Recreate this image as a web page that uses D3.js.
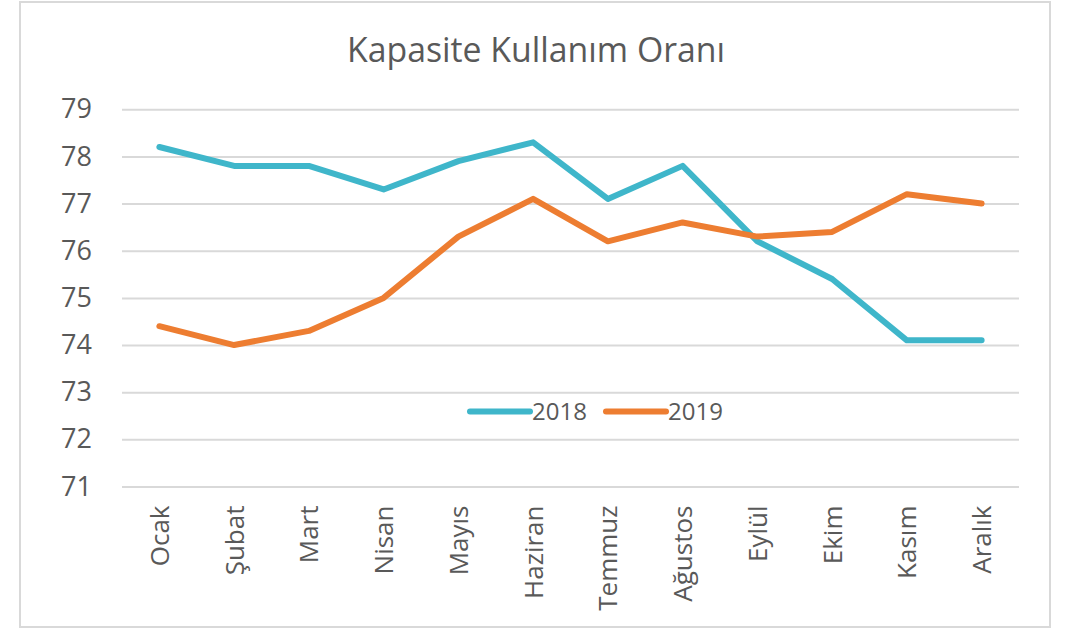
<!DOCTYPE html>
<html>
<head>
<meta charset="utf-8">
<script src="https://cdnjs.cloudflare.com/ajax/libs/d3/7.8.5/d3.min.js"></script>
<style>
  body { margin: 0; background: #fff; }
  text { font-family: "Open Sans", "Noto Sans", sans-serif; fill: #595959; }
</style>
</head>
<body>
<div id="chart"></div>
<script>
// chart data
var months = ['Ocak', 'Şubat', 'Mart', 'Nisan', 'Mayıs', 'Haziran', 'Temmuz', 'Ağustos', 'Eylül', 'Ekim', 'Kasım', 'Aralık'];
var values2018 = [78.2, 77.8, 77.8, 77.3, 77.9, 78.3, 77.1, 77.8, 76.2, 75.4, 74.1, 74.1];
var values2019 = [74.4, 74.0, 74.3, 75.0, 76.3, 77.1, 76.2, 76.6, 76.3, 76.4, 77.2, 77.0];
var yTicks = [71, 72, 73, 74, 75, 76, 77, 78, 79];
var seriesNames = ['2018', '2019'];
var seriesColors = ['#3fb6ca', '#ed7d31'];

var totalWidth = 1081;
var totalHeight = 630;
var plot = { left: 122, right: 1019, top: 109.3, bottom: 486.5 };

var svg = d3.select('#chart').append('svg')
    .attr('width', totalWidth)
    .attr('height', totalHeight);

// outer frame
svg.append('rect')
    .attr('x', 20).attr('y', 2)
    .attr('width', 1030).attr('height', 625)
    .attr('fill', '#fff')
    .attr('stroke', '#d9d9d9')
    .attr('stroke-width', 2);

// title
svg.append('text')
    .attr('x', 536).attr('y', 62)
    .attr('text-anchor', 'middle')
    .attr('font-size', 35)
    .attr('textLength', 378)
    .attr('lengthAdjust', 'spacingAndGlyphs')
    .text('Kapasite Kullanım Oranı');

var xScale = d3.scalePoint()
    .domain(months)
    .range([plot.left, plot.right])
    .padding(0.5);

var yScale = d3.scaleLinear()
    .domain([d3.min(yTicks), d3.max(yTicks)])
    .range([plot.bottom, plot.top]);

// y axis with gridlines
var yAxis = d3.axisLeft(yScale)
    .tickValues(yTicks)
    .tickSize(-(plot.right - plot.left))
    .tickPadding(30);

var yAxisGroup = svg.append('g')
    .attr('transform', 'translate(' + plot.left + ',0)')
    .call(yAxis);
yAxisGroup.select('.domain').remove();
yAxisGroup.selectAll('line').attr('stroke', '#d9d9d9').attr('stroke-width', 2);
yAxisGroup.selectAll('text')
    .attr('fill', '#595959')
    .attr('font-size', 27)
    .attr('font-family', '"Open Sans", sans-serif');

// x axis, rotated labels
var xAxis = d3.axisBottom(xScale).tickSize(0).tickPadding(0);
var xAxisGroup = svg.append('g')
    .attr('transform', 'translate(0,' + plot.bottom + ')')
    .call(xAxis);
xAxisGroup.select('.domain').remove();
xAxisGroup.selectAll('text')
    .attr('fill', '#595959')
    .attr('font-size', 26)
    .attr('font-family', '"Open Sans", sans-serif')
    .attr('text-anchor', 'end')
    .attr('dy', '0.35em')
    .attr('y', 0)
    .attr('x', 0)
    .attr('transform', 'translate(0,19) rotate(-90)');

// lines
var line = d3.line()
    .x(function(d, i) { return xScale(months[i]); })
    .y(function(d) { return yScale(d); });

[values2018, values2019].forEach(function(vals, i) {
    svg.append('path')
        .datum(vals)
        .attr('d', line)
        .attr('fill', 'none')
        .attr('stroke', seriesColors[i])
        .attr('stroke-width', 6)
        .attr('stroke-linejoin', 'round')
        .attr('stroke-linecap', 'round');
});

// legend
var legendX = [470, 606];
var legendY = 411.5;
seriesNames.forEach(function(name, i) {
    var g = svg.append('g').attr('transform', 'translate(' + legendX[i] + ',' + legendY + ')');
    g.append('line')
        .attr('x1', 0).attr('x2', 60)
        .attr('stroke', seriesColors[i])
        .attr('stroke-width', 6)
        .attr('stroke-linecap', 'round');
    g.append('text')
        .attr('x', 62).attr('dy', '0.35em')
        .attr('font-size', 24)
        .text(name);
});
</script>
</body>
</html>
